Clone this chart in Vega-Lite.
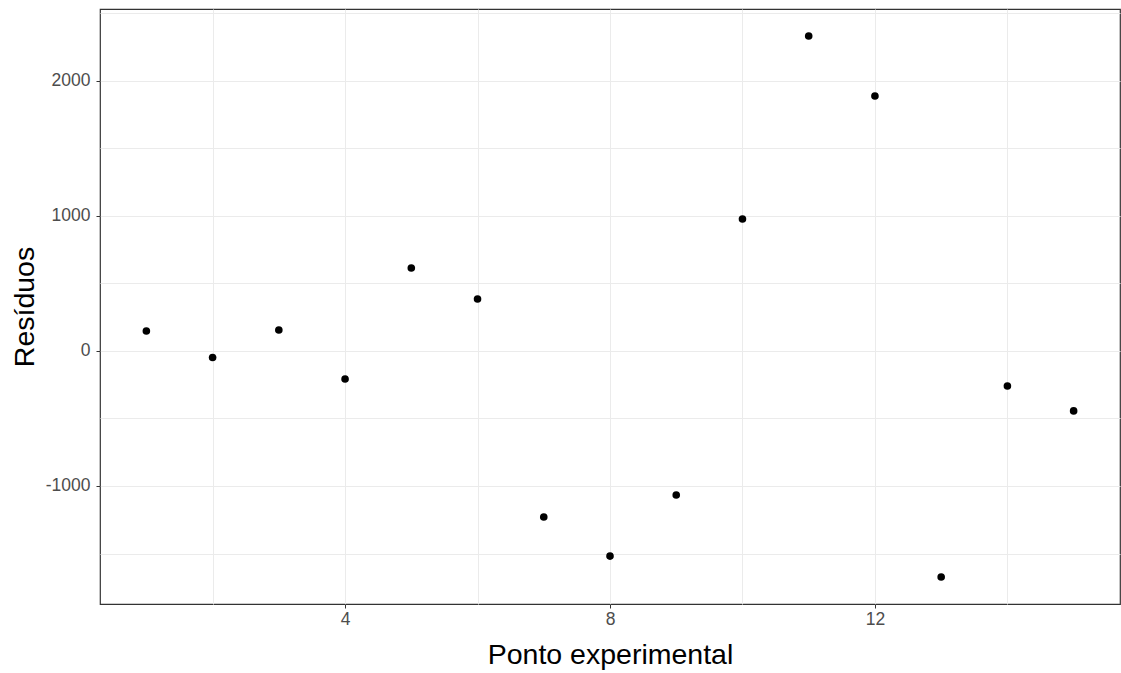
{
  "$schema": "https://vega.github.io/schema/vega-lite/v6.json",
  "autosize": "none",
  "width": 1020,
  "height": 595,
  "padding": {"left": 100, "top": 9, "right": 1, "bottom": 69},
  "background": "white",
  "config": {
    "view": {"stroke": "#333333", "strokeWidth": 1.2},
    "font": "Liberation Sans"
  },
  "data": {
    "values": [
      {"ponto": 1, "residuo": 148},
      {"ponto": 2, "residuo": -48},
      {"ponto": 3, "residuo": 155},
      {"ponto": 4, "residuo": -207},
      {"ponto": 5, "residuo": 615},
      {"ponto": 6, "residuo": 385},
      {"ponto": 7, "residuo": -1230},
      {"ponto": 8, "residuo": -1519},
      {"ponto": 9, "residuo": -1067},
      {"ponto": 10, "residuo": 978},
      {"ponto": 11, "residuo": 2333},
      {"ponto": 12, "residuo": 1889},
      {"ponto": 13, "residuo": -1674},
      {"ponto": 14, "residuo": -259},
      {"ponto": 15, "residuo": -444}
    ]
  },
  "mark": {"type": "point", "filled": true, "color": "black", "opacity": 1, "size": 58},
  "encoding": {
    "x": {
      "field": "ponto",
      "type": "quantitative",
      "scale": {"domain": [0.3, 15.7], "nice": false, "zero": false},
      "axis": {
        "title": "Ponto experimental",
        "values": [2, 4, 6, 8, 10, 12, 14],
        "labelExpr": "datum.value % 4 === 0 ? '' + datum.value : ''",
        "domain": false,
        "grid": true,
        "gridColor": "#EBEBEB",
        "gridWidth": 1,
        "ticks": true,
        "tickColor": "#333333",
        "tickSize": 4,
        "tickOpacity": {"condition": {"test": "datum.value % 4 === 0", "value": 1}, "value": 0},
        "labelColor": "#4D4D4D",
        "labelFontSize": 17.5,
        "labelPadding": 2,
        "titleFontSize": 28.5,
        "titleFontWeight": "normal",
        "titleColor": "black",
        "titlePadding": 13
      }
    },
    "y": {
      "field": "residuo",
      "type": "quantitative",
      "scale": {"domain": [-1874, 2533], "nice": false, "zero": false},
      "axis": {
        "title": "Resíduos",
        "values": [-1500, -1000, -500, 0, 500, 1000, 1500, 2000, 2500],
        "labelExpr": "datum.value % 1000 === 0 ? '' + datum.value : ''",
        "domain": false,
        "grid": true,
        "gridColor": "#EBEBEB",
        "gridWidth": 1,
        "ticks": true,
        "tickColor": "#333333",
        "tickSize": 4,
        "tickOpacity": {"condition": {"test": "datum.value % 1000 === 0", "value": 1}, "value": 0},
        "labelColor": "#4D4D4D",
        "labelFontSize": 17.5,
        "labelPadding": 6,
        "titleFontSize": 28.5,
        "titleFontWeight": "normal",
        "titleColor": "black",
        "titlePadding": 6
      }
    }
  }
}
